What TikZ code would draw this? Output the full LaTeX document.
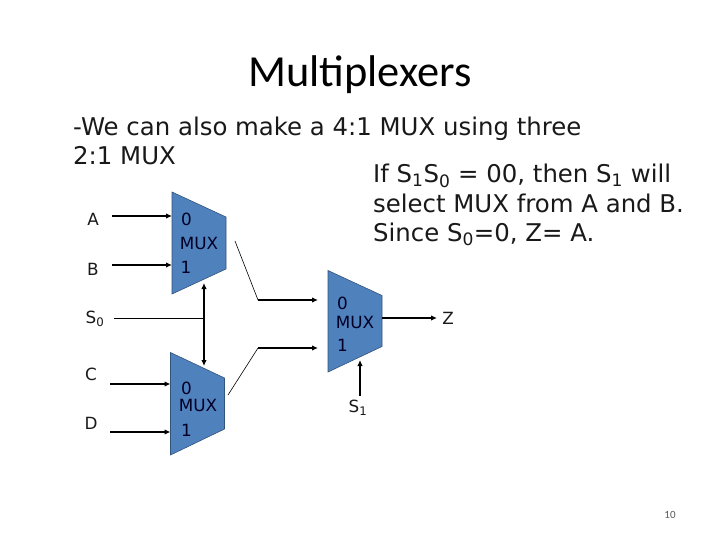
\documentclass[tikz,border=0pt]{standalone}
\usepackage{fontspec}
\setmainfont{DejaVu Sans}
\newfontfamily\titlefont{Carlito}
\definecolor{muxblue}{RGB}{79,129,189}
\usetikzlibrary{arrows.meta}
\tikzset{
  muxbody/.style={draw=muxblue!65!black,line width=.6pt,fill=muxblue},
  wire/.style={black,line width=1.4pt},
  arrowwire/.style={wire,-{Latex[length=6pt,width=5.5pt]}},
  bothwire/.style={wire,{Latex[length=6pt,width=5.5pt]}-{Latex[length=6pt,width=5.5pt]}},
  thinwire/.style={black,line width=.6pt},
  sig/.style={inner sep=0pt,font=\fontsize{16.8}{17}\selectfont,text=black!90},
  muxtext/.style={inner sep=0pt,font=\fontsize{16.8}{17}\selectfont,text=black!85!blue},
  bodytext/.style={inner sep=0pt,anchor=base west,font=\fontsize{24.4}{24}\selectfont,text=black!90},
}
\begin{document}
\begin{tikzpicture}[x=1pt,y=-1pt]
\useasboundingbox (0,0) rectangle (720,540);
\fill[white] (0,0) rectangle (720,540);
\node[inner sep=0pt,font=\titlefont\fontsize{44.4}{44}\selectfont] (title) at (360,75) {Multiplexers};
\node[bodytext] (l1) at (73,136) {-We can also make a 4:1 MUX using three};
\node[bodytext] (l2) at (73,165) {2:1 MUX};
\node[bodytext] (r1) at (373,183) {If S\textsubscript{1}S\textsubscript{0} = 00, then S\textsubscript{1} will};
\node[bodytext] (r2) at (373,213) {select MUX from A and B.};
\node[bodytext] (r3) at (373,241) {Since S\textsubscript{0}=0, Z= A.};
% mux bodies
\draw[muxbody] (172,192) coordinate (m1tl) -- (226,217) -- (226,269) -- (172,294) -- cycle;
\draw[muxbody] (170.5,352.5) coordinate (m2tl) -- (224.5,378) -- (224.5,429) -- (170.5,455) -- cycle;
\draw[muxbody] (328,270.5) coordinate (m3tl) -- (382,295.5) -- (382,346.5) -- (328,372) -- cycle;
\node[muxtext] (m1a) at (186.5,219) {0};
\node[muxtext] (m1b) at (199,243) {MUX};
\node[muxtext] (m1c) at (186,267) {1};
\node[muxtext] (m2a) at (186.5,388) {0};
\node[muxtext] (m2b) at (198,405) {MUX};
\node[muxtext] (m2c) at (186.5,430) {1};
\node[muxtext] (m3a) at (342.5,303) {0};
\node[muxtext] (m3b) at (355,322) {MUX};
\node[muxtext] (m3c) at (342.5,345) {1};
% labels
\node[sig] (A) at (93,219) {A};
\node[sig] (B) at (93,269) {B};
\node[sig] (S0) at (95,319) {S\textsubscript{0}};
\node[sig] (C) at (91,374) {C};
\node[sig] (D) at (91,423) {D};
\node[sig] (Z) at (448,318) {Z};
\node[sig] (S1) at (358,408) {S\textsubscript{1}};
% port coordinates
\coordinate (a0) at (112,216); \coordinate (a1) at (172,216);
\coordinate (b0) at (112,265); \coordinate (b1) at (172,265);
\coordinate (c0) at (110,384); \coordinate (c1) at (170.5,384);
\coordinate (d0) at (110,432); \coordinate (d1) at (170.5,432);
\coordinate (s0) at (114,318); \coordinate (sj) at (204,318);
\coordinate (su) at (204,283); \coordinate (sd) at (204,366);
\coordinate (u0) at (235,241); \coordinate (u1) at (258,300); \coordinate (u2) at (318,300);
\coordinate (v0) at (228,395); \coordinate (v1) at (258,348); \coordinate (v2) at (318,348);
\coordinate (z0) at (382,318); \coordinate (z1) at (437,318);
\coordinate (t0) at (360,396); \coordinate (t1) at (360,360);
% connectors
\draw[arrowwire] (a0) -- (a1);
\draw[arrowwire] (b0) -- (b1);
\draw[arrowwire] (c0) -- (c1);
\draw[arrowwire] (d0) -- (d1);
\draw[thinwire] (s0) -- (sj);
\draw[bothwire] (su) -- (sd);
\draw[thinwire] (u0) -- (u1);
\draw[arrowwire] (u1) -- (u2);
\draw[thinwire] (v0) -- (v1);
\draw[arrowwire] (v1) -- (v2);
\draw[arrowwire] (z0) -- (z1);
\draw[arrowwire] (t0) -- (t1);
\node[inner sep=0pt,font=\titlefont\fontsize{11}{11}\selectfont,text=black!65] (pg) at (670,515) {10};
\end{tikzpicture}
\end{document}
